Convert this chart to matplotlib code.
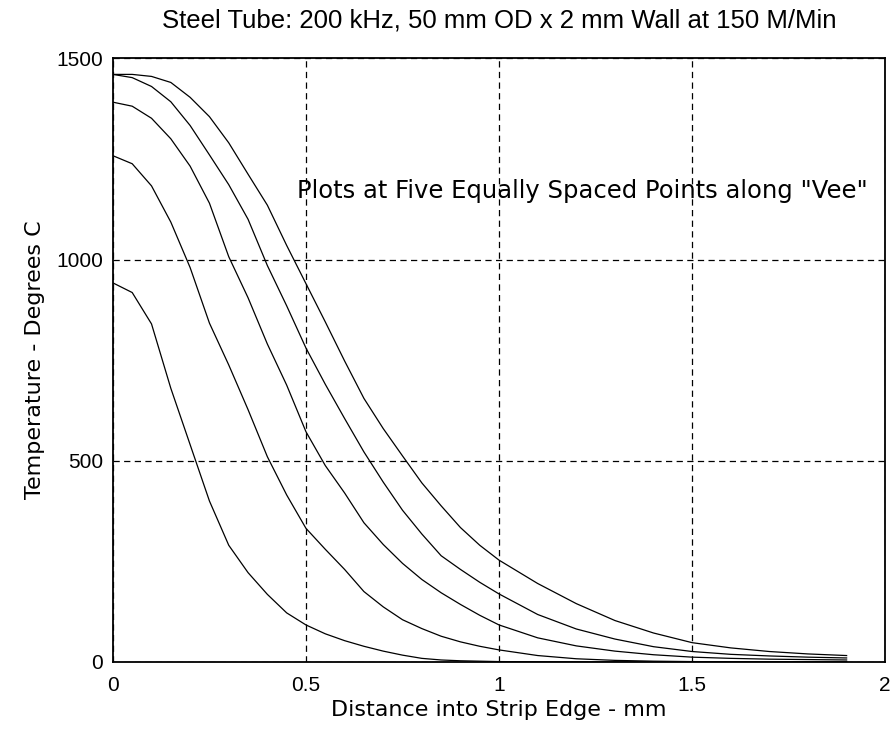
import matplotlib
matplotlib.use('Agg')
import matplotlib.pyplot as plt
import numpy as np

dist = [0, 0.05, 0.1, 0.15, 0.2, 0.25, 0.3, 0.35, 0.4, 0.45, 0.5, 0.55, 0.6,
        0.65, 0.7, 0.75, 0.8, 0.85, 0.9, 0.95, 1.0, 1.1, 1.2, 1.3, 1.4, 1.5,
        1.6, 1.7, 1.8, 1.9]

# Temperatures (deg C) at five points along the "Vee", hottest first
temp_5 = [1460, 1460, 1455, 1440, 1403, 1355, 1290, 1212, 1135, 1035, 940,
          845, 748, 655, 580, 512, 445, 388, 334, 290, 253, 195, 145, 103,
          72, 48, 35, 26, 20, 16]
temp_4 = [1460, 1452, 1430, 1392, 1333, 1260, 1186, 1100, 985, 885, 780,
          690, 605, 522, 447, 377, 318, 264, 230, 198, 169, 118, 82, 57,
          38, 26, 19, 15, 12, 10]
temp_3 = [1391, 1381, 1351, 1300, 1232, 1140, 1007, 905, 790, 688, 572,
          488, 420, 346, 292, 245, 205, 172, 143, 116, 92, 60, 40, 27,
          18, 12, 9, 7, 6, 5]
temp_2 = [1258, 1238, 1183, 1093, 980, 842, 738, 627, 510, 415, 332,
          280, 230, 175, 137, 105, 83, 64, 50, 39, 30, 16, 8, 4,
          2, 1, 0.5, 0.3, 0.2, 0.1]
temp_1 = [942, 918, 840, 680, 540, 400, 290, 222, 168, 122, 92,
          70, 53, 39, 27, 17, 9, 5, 3, 2, 1, 0.5, 0.3, 0.2,
          0.1, 0.1, 0.1, 0.1, 0.1, 0.1]

x_ticks = [0, 0.5, 1, 1.5, 2]
y_ticks = [0, 500, 1000, 1500]

plt.rcParams['font.family'] = ['Liberation Sans', 'DejaVu Sans']
wide = ['DejaVu Sans']

fig = plt.figure(figsize=(8.96, 7.38), dpi=100)
ax = fig.add_axes([0.126, 0.103, 0.862, 0.818])

for t in [temp_5, temp_4, temp_3, temp_2, temp_1]:
    ax.plot(dist, t, color='black', lw=0.9)

ax.set_xlim(0, 2)
ax.set_ylim(0, 1500)
ax.set_xticks(x_ticks)
ax.set_xticklabels(['0', '0.5', '1', '1.5', '2'])
ax.set_yticks(y_ticks)
ax.tick_params(length=0, labelsize=15)
ax.tick_params(axis='x', pad=10)
ax.tick_params(axis='y', pad=7)

ax.grid(True, color='black', linestyle=(0, (5, 3.5)), linewidth=0.9)
for s in ax.spines.values():
    s.set_linewidth(1.3)

ax.set_title('Steel Tube: 200 kHz, 50 mm OD x 2 mm Wall at 150 M/Min',
             fontsize=18.5, pad=22)
ax.set_xlabel('Distance into Strip Edge - mm', fontsize=16, family=wide,
              labelpad=4)
ax.set_ylabel('Temperature - Degrees C', fontsize=16, family=wide,
              labelpad=8)

ax.text(0.477, 1170, 'Plots at Five Equally Spaced Points along "Vee"',
        fontsize=17.5, family=wide, va='center', ha='left')

fig.savefig('out.png', dpi=100)
